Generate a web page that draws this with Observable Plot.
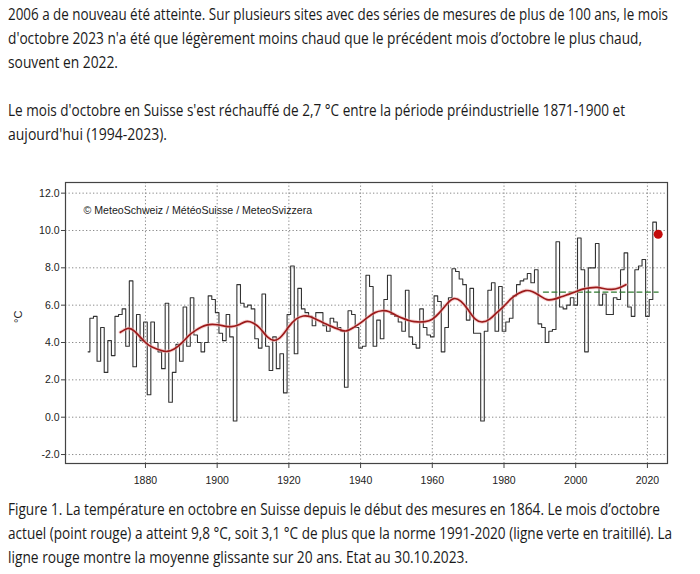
<!DOCTYPE html>
<html><head><meta charset="utf-8">
<script src="https://cdn.jsdelivr.net/npm/d3@7"></script>
<script src="https://cdn.jsdelivr.net/npm/@observablehq/plot@0.6"></script>
<style>
html,body{margin:0;padding:0;background:#fff;}
body{width:700px;height:574px;overflow:hidden;position:relative;font-family:"Liberation Sans Narrow","Open Sans","Noto Sans",sans-serif;color:#1a1a1a;}
.t{position:absolute;left:8px;white-space:nowrap;font-size:16.5px;line-height:18px;transform-origin:0 50%;}
#chart{position:absolute;left:0;top:170px;}
</style></head><body>
<div id="text"></div>
<div id="chart"></div>
<script>
// ---- data ----
const firstYear = 1864, lastYear = 2023;
const years = d3.range(firstYear, lastYear + 1);
const octTemp = [
  3.5, 5.3, 5.4, 3.0, 4.8, 2.4, 4.1, 3.3, 5.4, 5.5,   // 1864-1873
  5.8, 3.8, 7.3, 2.7, 5.5, 4.1, 5.1, 1.2, 5.1, 4.0,   // 1874-1883
  3.5, 2.6, 6.1, 0.8, 2.4, 3.9, 3.0, 5.9, 3.8, 6.4,   // 1884-1893
  4.4, 4.0, 3.5, 4.0, 6.5, 6.3, 5.6, 4.5, 4.1, 5.5,   // 1894-1903
  4.3, -0.2, 7.1, 6.1, 5.9, 6.0, 5.8, 4.2, 3.7, 6.6,  // 1904-1913
  3.8, 2.5, 4.3, 2.6, 3.4, 1.3, 5.5, 8.1, 3.4, 6.9,   // 1914-1923
  5.8, 5.6, 5.4, 4.9, 5.6, 5.6, 4.9, 4.6, 5.3, 5.1,   // 1924-1933
  4.8, 4.6, 1.6, 5.7, 5.5, 4.8, 3.7, 3.8, 7.6, 7.0,   // 1934-1943
  3.8, 5.2, 4.2, 6.3, 7.6, 5.5, 5.4, 5.1, 4.6, 6.8,   // 1944-1953
  4.3, 3.9, 3.7, 5.8, 4.8, 4.4, 4.3, 6.5, 6.2, 3.5,   // 1954-1963
  4.8, 6.4, 7.95, 7.8, 7.4, 7.1, 5.2, 6.9, 4.5, 4.5,  // 1964-1973
  -0.2, 4.6, 6.8, 7.2, 4.6, 7.0, 4.6, 5.1, 5.3, 6.5,  // 1974-1983
  7.1, 7.3, 7.4, 7.7, 7.2, 7.9, 5.0, 4.8, 4.0, 4.6,   // 1984-1993
  4.7, 9.4, 5.9, 5.8, 6.0, 6.4, 6.0, 9.6, 7.9, 3.5,   // 1994-2003
  8.0, 8.0, 9.3, 6.0, 6.6, 5.5, 5.5, 6.4, 6.3, 7.9,   // 2004-2013
  8.8, 5.9, 5.4, 7.9, 8.1, 8.45, 5.4, 6.3, 10.45, 9.8 // 2014-2023
];
const smoothYears = [1873,1875,1877,1880,1882,1884,1886,1888,1890,1892,1894,1897,1900,1902,1904,1906,1908,1910,1912,1914,1916,1918,1920,1922,1924,1926,1928,1930,1932,1934,1936,1938,1940,1942,1944,1946,1948,1950,1952,1954,1956,1958,1960,1962,1964,1966,1968,1970,1972,1974,1976,1978,1980,1982,1984,1986,1988,1990,1992,1994,1996,1998,2000,2002,2004,2006,2008,2010,2012,2014];
const smoothTemp = [4.55,4.75,4.6,4.0,3.75,3.6,3.52,3.65,3.95,4.35,4.65,4.93,4.95,4.88,4.85,4.95,5.12,5.05,4.75,4.3,4.12,4.35,4.85,5.25,5.42,5.38,5.2,5.02,4.85,4.7,4.62,4.8,5.05,5.35,5.6,5.7,5.65,5.45,5.28,5.15,5.1,5.12,5.25,5.6,6.05,6.35,6.2,5.75,5.25,5.1,5.25,5.6,5.95,6.35,6.62,6.78,6.72,6.5,6.3,6.32,6.45,6.58,6.72,6.86,6.93,6.95,6.88,6.85,6.92,7.1];
const normYears = [1991, 2023];
const normTemp = 6.7;
const currentYear = 2023;
const currentTemp = 9.8;
const yTicks = [-2, 0, 2, 4, 6, 8, 10, 12];
const xTicks = [1880, 1900, 1920, 1940, 1960, 1980, 2000, 2020];
const credit = "© MeteoSchweiz / MétéoSuisse / MeteoSvizzera";
const yLabel = "°C";

const topLines = [
  "2006 a de nouveau été atteinte. Sur plusieurs sites avec des séries de mesures de plus de 100 ans, le mois",
  "d'octobre 2023 n'a été que légèrement moins chaud que le précédent mois d’octobre le plus chaud,",
  "souvent en 2022.",
  "",
  "Le mois d'octobre en Suisse s'est réchauffé de 2,7 °C entre la période préindustrielle 1871-1900 et",
  "aujourd'hui (1994-2023)."
];
const captionLines = [
  "Figure 1. La température en octobre en Suisse depuis le début des mesures en 1864. Le mois d’octobre",
  "actuel (point rouge) a atteint 9,8 °C, soit 3,1 °C de plus que la norme 1991-2020 (ligne verte en traitillé). La",
  "ligne rouge montre la moyenne glissante sur 20 ans. Etat au 30.10.2023."
];
// measured widths of lines in the reference (px)
const topWidths = [660, 634, 110, 0, 617, 159];
const captionWidths = [652, 664, 460];

// ---- text ----
const textDiv = document.getElementById("text");
function addLines(lines, widths, top0) {
  lines.forEach((s, i) => {
    if (!s) return;
    const d = document.createElement("div");
    d.className = "t";
    d.textContent = s;
    d.style.top = (top0 + i * 24) + "px";
    textDiv.appendChild(d);
    const w = d.getBoundingClientRect().width;
    if (w > 0) d.style.transform = `scaleX(${widths[i] / w})`;
  });
}
addLines(topLines, topWidths, 5);
addLines(captionLines, captionWidths, 500);

// ---- chart ----
const series = years.map((y, i) => ({year: y, t: octTemp[i]}));
const smooth = smoothYears.map((y, i) => ({year: y, t: smoothTemp[i]}));
const norm = normYears.map(y => ({year: y, t: normTemp}));
const current = [{year: currentYear, t: currentTemp}];

const chart = Plot.plot({
  width: 700,
  height: 325,
  marginTop: 12,
  marginBottom: 32,
  marginLeft: 65,
  marginRight: 33,
  x: {domain: [1857.7, 2025.6], label: null},
  y: {domain: [-2.48, 12.57], label: null},
  style: {fontFamily: "'Liberation Sans', Arial, sans-serif", fontSize: "10.5px", color: "#222", background: "#fff", overflow: "visible"},
  marks: [
    Plot.gridY(yTicks, {stroke: "#8a8a8a", strokeOpacity: 1, strokeDasharray: "1.3,2.2", strokeWidth: 1}),
    Plot.gridX(xTicks, {stroke: "#8a8a8a", strokeOpacity: 1, strokeDasharray: "1.3,2.2", strokeWidth: 1}),
    Plot.axisY(yTicks, {tickFormat: d => d.toFixed(1), tickSize: 4, tickPadding: 2, label: null, stroke: "#444"}),
    Plot.axisX(xTicks, {tickFormat: d => String(d), tickSize: 5, tickPadding: 8, label: null, stroke: "#444"}),
    Plot.text([yLabel], {frameAnchor: "left", dx: -47, rotate: -90, fontSize: 11, fill: "#222"}),
    Plot.text([credit], {frameAnchor: "top-left", dx: 18, dy: 28, textAnchor: "start", lineAnchor: "middle", fontSize: 10.6, fill: "#1a1a1a"}),
    Plot.line(series, {x: "year", y: "t", curve: "step", stroke: "#333", strokeWidth: 1.1}),
    Plot.line(norm, {x: "year", y: "t", stroke: "#2f7a2f", strokeWidth: 1.3, strokeDasharray: "5,3.5"}),
    Plot.line(smooth, {x: "year", y: "t", curve: "natural", stroke: "#f3b0b0", strokeWidth: 3.6, strokeOpacity: 0.55}),
    Plot.line(smooth, {x: "year", y: "t", curve: "natural", stroke: "#9c1a1a", strokeWidth: 1.7}),
    Plot.dot(current, {x: "year", y: "t", r: 4.5, fill: "#c40c0c", stroke: "none"}),
    Plot.frame({stroke: "#444", strokeWidth: 1.2})
  ]
});
document.getElementById("chart").appendChild(chart);
</script>
</body></html>
